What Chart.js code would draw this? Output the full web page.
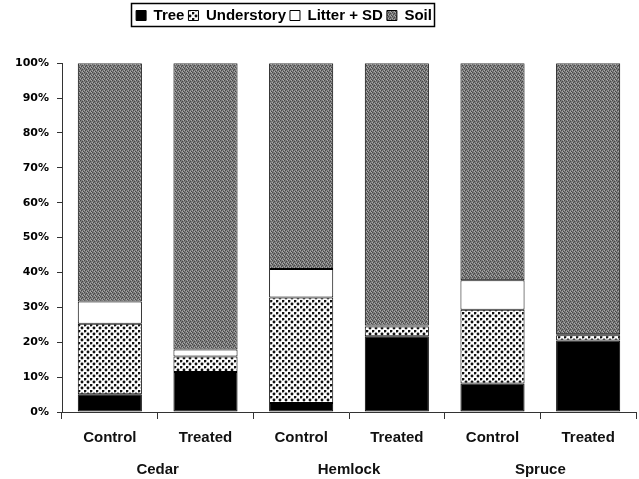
<!DOCTYPE html>
<html><head><meta charset="utf-8">
<script src="https://cdn.jsdelivr.net/npm/chart.js@4"></script>
<style>html,body{margin:0;padding:0;background:#fff}#wrap{width:639px;height:479px}</style>
</head><body><div id="wrap"><canvas id="c" width="639" height="479"></canvas></div>
<script>
// ---- data ----
const categories = ['Control', 'Treated', 'Control', 'Treated', 'Control', 'Treated'];
const groups = ['Cedar', 'Hemlock', 'Spruce'];
const seriesNames = ['Tree', 'Understory', 'Litter + SD', 'Soil'];
const tree = [5.1, 11.5, 2.6, 21.7, 8.2, 20.5];
const understory = [20.2, 4.4, 30.2, 2.8, 21.1, 1.5];
const litter = [6.4, 2.0, 8.2, 0.3, 8.5, 0.3];
const soil = [68.3, 82.1, 59.0, 75.2, 62.2, 77.7];
const yTickValues = [0, 10, 20, 30, 40, 50, 60, 70, 80, 90, 100];

// ---- fill patterns ----
function makePattern(size, draw) {
  const c = document.createElement('canvas');
  c.width = size; c.height = size;
  const g = c.getContext('2d');
  draw(g);
  return g.createPattern(c, 'repeat');
}
const dotPattern = makePattern(6, g => {
  g.fillStyle = '#fff'; g.fillRect(0, 0, 6, 6);
  g.fillStyle = '#111';
  [[1, 1], [4, 4]].forEach(([x, y]) => { g.beginPath(); g.arc(x, y, 1.45, 0, Math.PI * 2); g.fill(); });
});
const soilPattern = makePattern(4, g => {
  g.fillStyle = '#7a7a7a'; g.fillRect(0, 0, 4, 4);
  g.fillStyle = '#474747';
  g.fillRect(0, 0, 1, 1); g.fillRect(2, 1, 1, 1); g.fillRect(1, 2, 1, 1); g.fillRect(3, 3, 1, 1);
  g.fillStyle = '#ababab';
  g.fillRect(2, 3, 1, 1); g.fillRect(0, 2, 1, 1); g.fillRect(3, 0, 1, 1);
});

const FONT = "'Liberation Sans', Arial, Helvetica, sans-serif";
const TICKFONT = "'DejaVu Sans', Verdana, sans-serif";

const legendShift = {
  id: 'legendShift',
  afterLayout(chart) {
    const lg = chart.legend;
    if (!lg) return;
    lg.left -= 34; lg.right -= 34;
  }
};

const legendFrame = {
  id: 'legendFrame',
  afterDraw(chart) {
    const boxes = chart.legend && chart.legend.legendHitBoxes;
    if (!boxes || !boxes.length) return;
    let x0 = Infinity, x1 = -Infinity, y0 = Infinity, y1 = -Infinity;
    boxes.forEach(b => { x0 = Math.min(x0, b.left); x1 = Math.max(x1, b.left + b.width); y0 = Math.min(y0, b.top); y1 = Math.max(y1, b.top + b.height); });
    const ctx = chart.ctx;
    ctx.save();
    ctx.strokeStyle = '#000';
    ctx.lineWidth = 1.5;
    const cy = (y0 + y1) / 2;
    ctx.strokeRect(Math.round(x0 - 5) + 0.5, Math.round(cy - 13) + 0.5, Math.round(x1 - x0 + 7), 23);
    ctx.restore();
  }
};

const ds = (label, data, bg) => ({
  label, data, backgroundColor: bg, borderColor: '#000', borderWidth: 1, borderSkipped: false,
  categoryPercentage: 1.0, barPercentage: 0.67, xAxisID: 'x', yAxisID: 'y'
});

new Chart(document.getElementById('c'), {
  type: 'bar',
  data: {
    labels: categories,
    datasets: [
      ds(seriesNames[0], tree, '#000'),
      ds(seriesNames[1], understory, dotPattern),
      ds(seriesNames[2], litter, '#fff'),
      ds(seriesNames[3], soil, soilPattern)
    ]
  },
  options: {
    responsive: false,
    animation: false,
    devicePixelRatio: 1,
    layout: { padding: { top: 4, left: 0, right: 3, bottom: 0 } },
    plugins: {
      tooltip: { enabled: false },
      legend: {
        display: true, position: 'top',
        labels: { boxWidth: 10, boxHeight: 10, padding: 4, color: '#000', font: { family: FONT, size: 15, weight: 'bold' } }
      },
      subtitle: { display: true, text: '', weight: 500, position: 'top', font: { size: 1 }, padding: { top: 29, bottom: 0 } }
    },
    scales: {
      x: {
        type: 'category', stacked: true, position: 'bottom', weight: 0,
        grid: { display: true, drawOnChartArea: false, drawTicks: true, tickLength: 7, color: '#333', offset: true },
        border: { display: true, color: '#333', width: 1 },
        ticks: { color: '#111', padding: 10, font: { family: FONT, size: 15, weight: 'bold' }, maxRotation: 0 },
        afterFit: s => { s.height = 40; }
      },
      x2: {
        type: 'category', labels: groups, position: 'bottom', weight: 1, offset: true,
        grid: { display: false }, border: { display: false },
        ticks: { color: '#111', padding: 1, font: { family: FONT, size: 15, weight: 'bold' }, maxRotation: 0 },
        afterFit: s => { s.height = 27; }
      },
      y: {
        stacked: true, min: 0, max: 100,
        afterBuildTicks: s => { s.ticks = yTickValues.map(v => ({ value: v })); },
        grid: { display: true, drawOnChartArea: false, drawTicks: true, tickLength: 5, color: '#333' },
        border: { display: true, color: '#333', width: 1 },
        ticks: { color: '#000', padding: 8, font: { family: TICKFONT, size: 11, weight: 'bold' }, callback: v => v + '%' },
        afterFit: s => { s.width = 62; }
      }
    }
  },
  plugins: [legendShift, legendFrame]
});
</script></body></html>
